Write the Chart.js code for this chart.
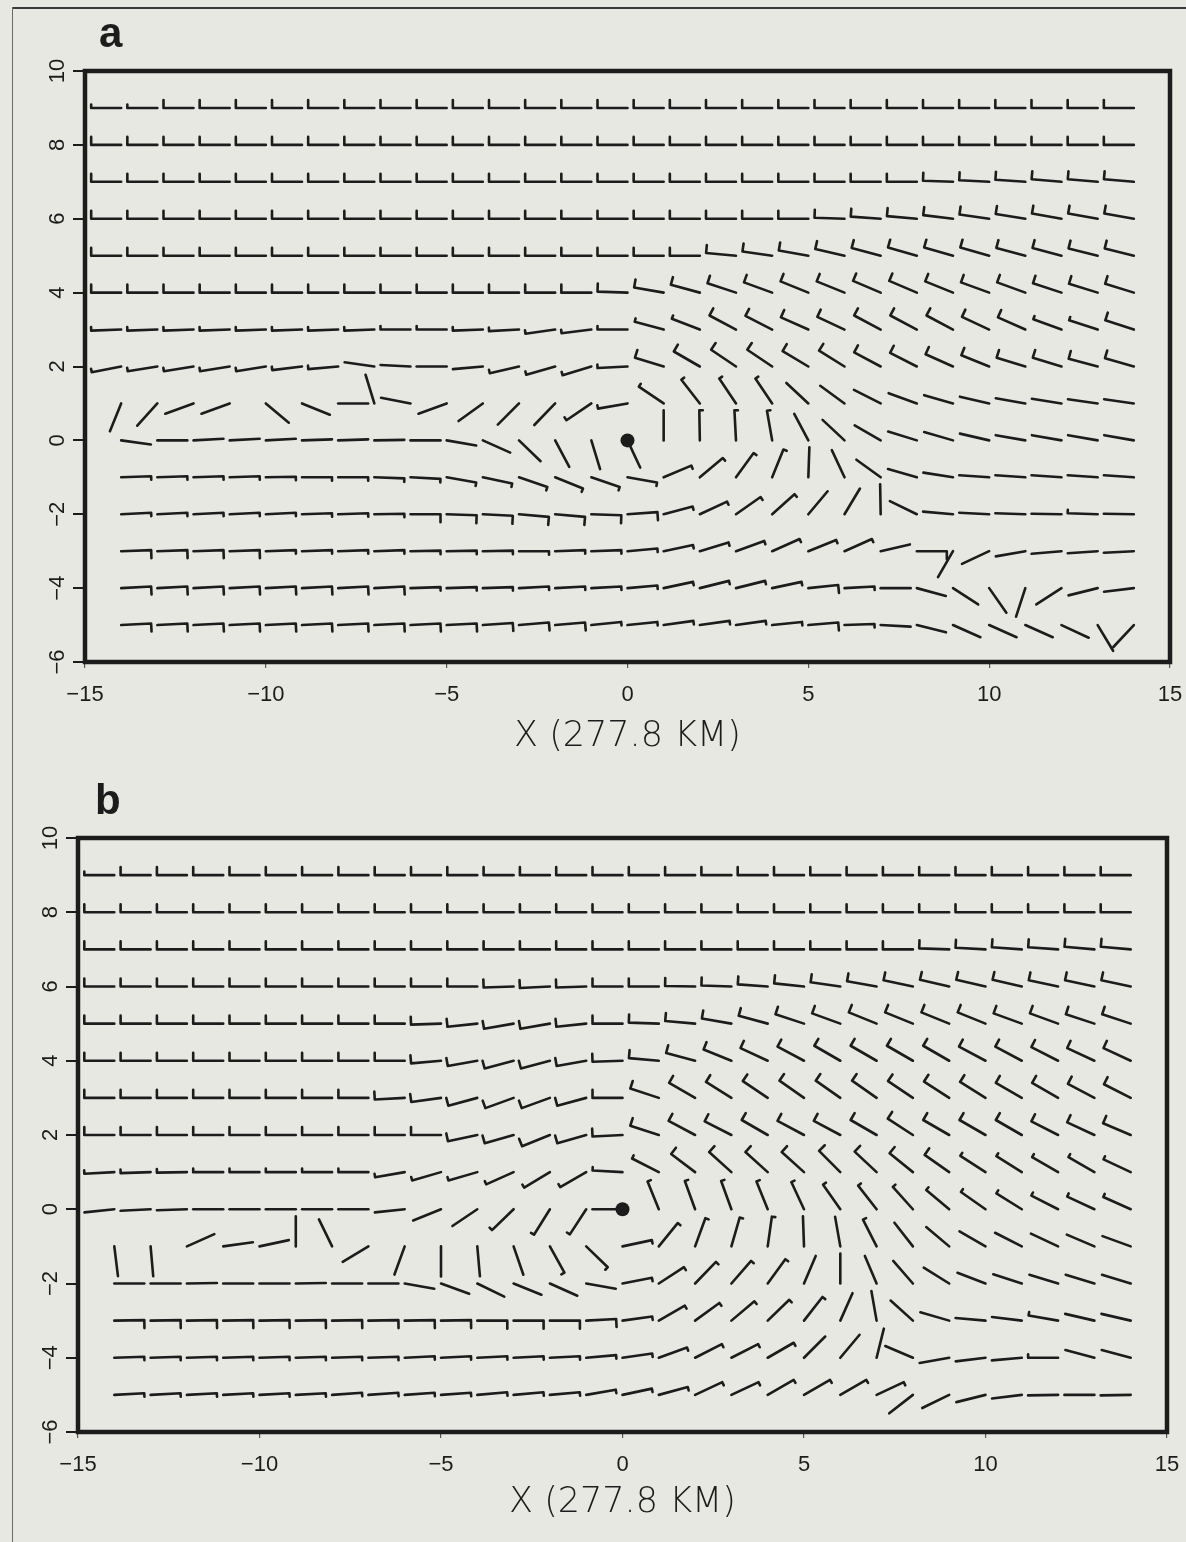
<!DOCTYPE html>
<html>
<head>
<meta charset="utf-8">
<script src="https://cdn.jsdelivr.net/npm/chart.js@4.4.1/dist/chart.umd.min.js"></script>
<style>
  html, body { margin: 0; padding: 0; background: #e8e8e3; }
  #page { position: relative; width: 1186px; height: 1542px; overflow: hidden; background: #e8e8e3; }
  #edgeTop { position: absolute; left: 13px; right: 0; top: 7px; border-top: 2px solid #3a3a3a; }
  #edgeLeft { position: absolute; left: 12px; top: 7px; bottom: 0; border-left: 1.5px solid #6a6a6a; }
  .panel { position: absolute; left: 0; width: 1186px; }
  #wrapA { top: 0; height: 770px; }
  #wrapB { top: 770px; height: 772px; }
</style>
</head>
<body>
<div id="page">
  <div id="edgeTop"></div>
  <div id="edgeLeft"></div>
  <div class="panel" id="wrapA"><canvas id="chartA" width="1186" height="770"></canvas></div>
  <div class="panel" id="wrapB"><canvas id="chartB" width="1186" height="772"></canvas></div>
</div>
<script>
// Station grid (units of 277.8 km)
const colsX = [-14,-13,-12,-11,-10,-9,-8,-7,-6,-5,-4,-3,-2,-1,0,1,2,3,4,5,6,7,8,9,10,11,12,13,14];
const rowsY = [9,8,7,6,5,4,3,2,1,0,-1,-2,-3,-4,-5];
const xTicks = [-15,-10,-5,0,5,10,15];
const yTicks = [-6,-4,-2,0,2,4,6,8,10];
const centerX = [0];
const centerY = [0];

// Staff direction (degrees, 0 = east, counter-clockwise), one row per y, columns -14..14
// grouped as  x=-14..-7 | -6..0 | 1..7 | 8..14
const dirA = [
  [180,180,180,180,180,180,180,180, 180,180,180,180,180,180,180, 180,180,180,180,180,180,180, 180,180,180,180,180,180,180],
  [180,180,180,180,180,180,180,180, 180,180,180,180,180,180,180, 180,180,180,180,180,180,180, 180,180,180,180,180,180,180],
  [180,180,180,180,180,180,180,180, 180,180,180,180,180,180,180, 180,180,180,180,180,180,180, 180,178,177,176,175,175,175],
  [180,180,180,180,180,180,180,180, 180,180,180,180,180,180,180, 180,180,180,180,180,178,176, 175,173,172,171,170,170,170],
  [180,180,180,180,180,180,180,180, 180,180,180,180,180,180,180, 180,180,175,172,170,167,165, 164,164,164,165,165,166,166],
  [180,180,180,180,180,180,180,180, 180,180,180,180,180,180,178, 170,165,162,160,158,158,157, 157,158,160,160,162,163,163],
  [182,182,182,182,182,182,182,182, 180,180,182,183,188,187,180, 165,159,152,153,156,155,152, 152,152,155,156,160,162,162],
  [191,189,189,189,189,187,185,172, 177,180,185,193,196,197,183, 163,150,146,146,149,148,152, 153,156,158,163,163,165,164],
  [248,228,200,200,320,338,0,107, 169,200,216,225,226,214,190, 146,128,124,124,137,144,153, 160,164,167,170,171,172,172],
  [352,0,3,3,3,2,2,1, 0,350,336,316,298,287,295, 90,91,93,100,118,137,150, 163,164,167,170,170,170,170],
  [2,2,2,2,1,0,0,358, 357,350,348,341,338,341,350, 23,40,54,68,88,115,144, 164,171,176,176,176,176,176],
  [3,3,3,3,3,2,2,1, 0,358,357,355,355,358,4, 15,25,35,42,50,59,91, 154,175,177,178,179,178,179],
  [2,2,2,2,2,2,2,2, 1,1,1,0,2,2,5, 12,17,20,24,22,24,13, 0,240,205,190,185,184,183],
  [3,3,3,3,3,3,3,3, 2,2,2,3,3,3,5, 12,14,14,12,6,3,0, 345,327,305,252,213,194,187],
  [3,3,3,3,3,3,3,3, 3,3,4,5,5,6,6, 8,8,8,6,5,2,357, 346,336,336,336,335,301,227]
];
// Barb (speed) class at the staff end: 0 none, 1 short, 2 full
const barbA = [
  '11222222 2222222 2222222 2222222',
  '22222222 2222222 2222222 2222222',
  '22222222 2222222 2222222 2222222',
  '22222222 2222222 2222222 2222222',
  '22222222 2222222 2222222 2222222',
  '22222222 2222222 2222222 2222222',
  '11111111 1111111 1122222 2222112',
  '11111110 0001111 2222222 2222222',
  '00000000 0000011 1111000 0000000',
  '00000000 0000000 0111000 0000000',
  '11111111 1111111 1111000 0000000',
  '11111111 2222222 1111000 0000010',
  '22221111 1111111 1111110 2000000',
  '22222222 1111111 1111210 0000000',
  '22222222 2222211 1111210 0000000'
];

const dirB = [
  [180,180,180,180,180,180,180,180, 180,180,180,180,180,180,180, 180,180,180,180,180,180,180, 180,180,180,180,180,180,180],
  [180,180,180,180,180,180,180,180, 180,180,180,180,180,180,180, 180,180,180,180,180,180,180, 180,180,180,180,180,180,180],
  [180,180,180,180,180,180,180,180, 180,180,180,180,180,180,180, 180,180,180,180,180,180,180, 180,178,177,176,176,175,175],
  [180,180,180,180,180,180,180,180, 180,180,180,182,183,182,180, 180,179,178,176,174,172,170, 168,167,167,167,168,168,168],
  [180,180,180,180,180,180,180,180, 180,182,186,190,190,186,180, 178,175,170,165,162,160,158, 158,158,158,160,160,162,162],
  [180,180,180,180,180,180,180,180, 180,185,190,195,195,190,182, 175,165,158,155,152,150,150, 150,150,152,152,153,155,155],
  [180,180,180,180,180,180,180,180, 183,188,195,200,200,195,180, 162,150,148,146,145,145,145, 146,147,148,150,150,152,153],
  [180,180,180,180,180,180,180,180, 180,180,192,196,202,196,183, 162,152,153,150,152,152,150, 147,150,150,150,153,155,157],
  [183,182,181,180,180,180,180,180, 190,196,196,204,211,210,177, 153,143,138,138,138,135,137, 141,145,147,148,150,150,155],
  [186,183,182,180,180,180,180,180, 186,202,214,224,238,237,180, 112,110,110,112,115,125,128, 132,140,145,148,153,155,156],
  [277,275,24,8,12,90,116,211, 250,270,275,289,299,316,12, 51,70,74,82,92,100,117, 128,140,150,153,155,157,160],
  [0,0,1,0,0,1,0,0, 350,340,334,338,336,350,11, 33,46,49,54,67,90,113, 131,148,159,162,163,163,163],
  [1,1,1,1,1,1,1,1, 1,1,0,0,0,3,8, 30,36,40,44,52,66,100, 138,164,175,173,170,167,167],
  [2,2,2,2,2,2,2,2, 3,3,3,3,3,5,8, 20,27,27,30,45,50,76, 157,190,187,185,180,165,165],
  [3,3,3,3,3,3,4,4, 4,4,5,5,5,10,12, 15,25,25,30,30,30,25, 218,206,194,187,181,180,181]
];
const barbB = [
  '12222222 2222222 2222222 2222222',
  '22222222 2222222 2222222 2222222',
  '22222222 2222222 2222222 2222222',
  '22222222 2222222 2222222 2222222',
  '22222222 2222222 2222222 2222222',
  '22222222 2222222 2222222 2222222',
  '22222222 2222222 2222222 2222222',
  '22222222 2222222 2222222 2222222',
  '11111111 1111111 1222222 2211111',
  '00000000 0001110 1111111 1111111',
  '00000000 0000111 1111001 0000000',
  '00000000 0000001 1111000 0000000',
  '22222222 2222221 1111100 0000100',
  '11111111 1111111 1111000 0000100',
  '11111111 1111111 1111111 0000000'
];

const INK = '#1c1c1c';
const TICKFONT = '"Liberation Sans", Arial, sans-serif';
const THIN = '"DejaVu Sans", "Liberation Sans", sans-serif';
const BOLD = '"Liberation Sans", Arial, sans-serif';
const STAFF = 30;             // staff length, px
const FEATHER = [0, 3.5, 8];  // tick length per barb class, px

function fmt(v) {
  return v < 0 ? '\u2212' + Math.abs(v) : String(v);
}

function toPoints(dirs, barbs) {
  const pts = [];
  rowsY.forEach((y, i) => {
    const codes = barbs[i].replace(/ /g, '');
    colsX.forEach((x, j) => {
      pts.push({ x: x, y: y, dir: dirs[i][j], barb: Number(codes[j]) });
    });
  });
  return pts;
}

// Wind barbs: staff from the station toward the wind source, tick at the far end
const barbPlugin = {
  id: 'barbs',
  afterDatasetsDraw(chart) {
    const ctx = chart.ctx;
    const meta = chart.getDatasetMeta(0);
    const pts = chart.data.datasets[0].data;
    ctx.save();
    ctx.strokeStyle = INK;
    ctx.lineWidth = 2.6;
    ctx.lineCap = 'round';
    ctx.lineJoin = 'round';
    meta.data.forEach((el, k) => {
      const p = pts[k];
      const a = p.dir * Math.PI / 180;
      const ex = el.x + STAFF * Math.cos(a);
      const ey = el.y - STAFF * Math.sin(a);
      ctx.beginPath();
      ctx.moveTo(el.x, el.y);
      ctx.lineTo(ex, ey);
      const f = FEATHER[p.barb];
      if (f > 0) {
        ctx.lineTo(ex + f * Math.sin(a), ey + f * Math.cos(a));
      }
      ctx.stroke();
    });
    ctx.restore();
  }
};

// Heavy frame, rotated y labels and the panel letter
const framePlugin = {
  id: 'frame',
  afterDraw(chart, args, opts) {
    const ctx = chart.ctx;
    const a = chart.chartArea;
    const ys = chart.scales.y;
    ctx.save();
    ctx.strokeStyle = INK;
    ctx.lineWidth = 4.5;
    ctx.strokeRect(a.left, a.top, a.right - a.left, a.bottom - a.top);

    ctx.fillStyle = INK;
    ctx.font = '22px ' + TICKFONT;
    ctx.textAlign = 'center';
    ctx.textBaseline = 'middle';
    ys.ticks.forEach(t => {
      const py = ys.getPixelForValue(t.value);
      ctx.save();
      ctx.translate(a.left - 27, py);
      ctx.rotate(-Math.PI / 2);
      ctx.fillText(fmt(t.value), 0, 0);
      ctx.restore();
    });

    ctx.font = 'bold 42px ' + BOLD;
    ctx.textAlign = 'left';
    ctx.textBaseline = 'alphabetic';
    ctx.fillText(opts.letter, opts.letterX, opts.letterY);
    ctx.restore();
  }
};

function buildChart(id, dirs, barbs, lay) {
  return new Chart(document.getElementById(id), {
    type: 'scatter',
    data: {
      datasets: [
        { data: toPoints(dirs, barbs), pointRadius: 0, pointHoverRadius: 0 },
        {
          data: centerX.map((x, i) => ({ x: x, y: centerY[i] })),
          pointRadius: 7, backgroundColor: INK, borderWidth: 0
        }
      ]
    },
    options: {
      responsive: false,
      animation: false,
      devicePixelRatio: 1,
      events: [],
      layout: { padding: { left: 0, top: lay.top, right: lay.right, bottom: 0 } },
      plugins: {
        legend: { display: false },
        tooltip: { enabled: false },
        frame: { letter: lay.letter, letterX: lay.letterX, letterY: lay.letterY }
      },
      scales: {
        x: {
          type: 'linear', min: -15, max: 15,
          afterBuildTicks: s => { s.ticks = xTicks.map(v => ({ value: v })); },
          afterFit: s => { s.height = lay.xh; s.paddingLeft = 0; s.paddingRight = 0; },
          grid: { drawOnChartArea: false, drawTicks: true, tickLength: 6, color: '#555', lineWidth: 1.2 },
          border: { display: false },
          ticks: { color: INK, padding: 14, maxRotation: 0, font: { family: TICKFONT, size: 22 }, callback: v => fmt(v) },
          title: {
            display: true, text: 'X (277.8 KM)', color: INK,
            font: { family: THIN, size: 35, weight: 300 },
            padding: { top: 0, bottom: lay.titlePad }
          }
        },
        y: {
          type: 'linear', min: -6, max: 10,
          afterBuildTicks: s => { s.ticks = yTicks.map(v => ({ value: v })); },
          afterFit: s => { s.width = lay.left; s.paddingTop = 0; s.paddingBottom = 0; },
          grid: { drawOnChartArea: false, drawTicks: true, tickLength: 12, color: INK, lineWidth: 2 },
          border: { display: false },
          ticks: { display: false }
        }
      }
    },
    plugins: [barbPlugin, framePlugin]
  });
}

buildChart('chartA', dirA, barbA, { top: 71, right: 16, left: 85, xh: 108, titlePad: 11.6, letter: 'a', letterX: 99, letterY: 47 });
buildChart('chartB', dirB, barbB, { top: 68, right: 19, left: 78, xh: 110, titlePad: 17.6, letter: 'b', letterX: 95, letterY: 44 });
</script>
</body>
</html>
